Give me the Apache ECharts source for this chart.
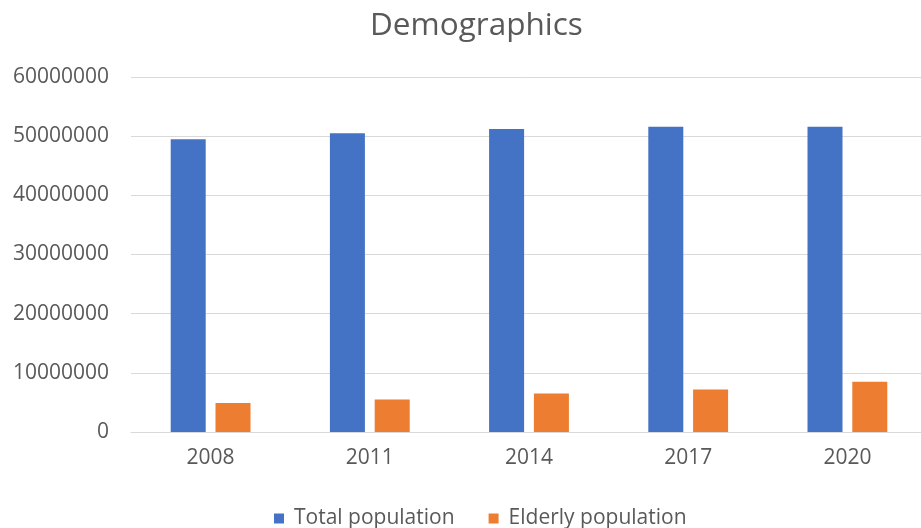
<!DOCTYPE html>
<html><head><meta charset="utf-8">
<script src="https://cdn.jsdelivr.net/npm/echarts@6/dist/echarts.min.js"></script>
<style>html,body{margin:0;padding:0;background:#fff}#c{width:921px;height:528px}</style>
</head><body><div id="c"></div>
<script>
const categories = ['2008','2011','2014','2017','2020'];
const totalPopulation = [49500000, 50500000, 51200000, 51600000, 51600000];
const elderlyPopulation = [4900000, 5500000, 6500000, 7200000, 8500000];
const seriesNames = ['Total population','Elderly population'];

const font = 'Open Sans';
const chart = echarts.init(document.getElementById('c'), null, {renderer:'canvas'});
chart.setOption({
  animation:false,
  backgroundColor:'#fff',
  title:{text:'Demographics', left:365, top:5,
    textStyle:{fontFamily:font, fontSize:31.5, fontWeight:'normal', color:'#595959'}},
  legend:{top:503, left:269, itemWidth:10, itemHeight:10, itemGap:34, icon:'rect',
    textStyle:{fontFamily:font, fontSize:21, color:'#595959', padding:[0,0,0,5]}},
  grid:{left:131, right:-6, top:77, bottom:96, containLabel:false, outerBoundsMode:'none'},
  xAxis:{type:'category', data:categories,
    axisLine:{lineStyle:{color:'#d9d9d9'}}, axisTick:{show:false},
    axisLabel:{fontFamily:font, fontSize:21, color:'#595959', margin:16}},
  yAxis:{type:'value', min:0, max:60000000, interval:10000000,
    axisLine:{show:false}, axisTick:{show:false},
    splitLine:{lineStyle:{color:'#d9d9d9'}},
    axisLabel:{fontFamily:font, fontSize:21, color:'#595959', margin:22,
      formatter:function(v){return String(v);}}},
  series:[
    {name:seriesNames[0], type:'bar', data:totalPopulation, barWidth:35, barGap:'28%', itemStyle:{color:'#4472C4'}},
    {name:seriesNames[1], type:'bar', data:elderlyPopulation, barWidth:35, barGap:'28%', itemStyle:{color:'#ED7D31'}}
  ]
});
</script></body></html>
